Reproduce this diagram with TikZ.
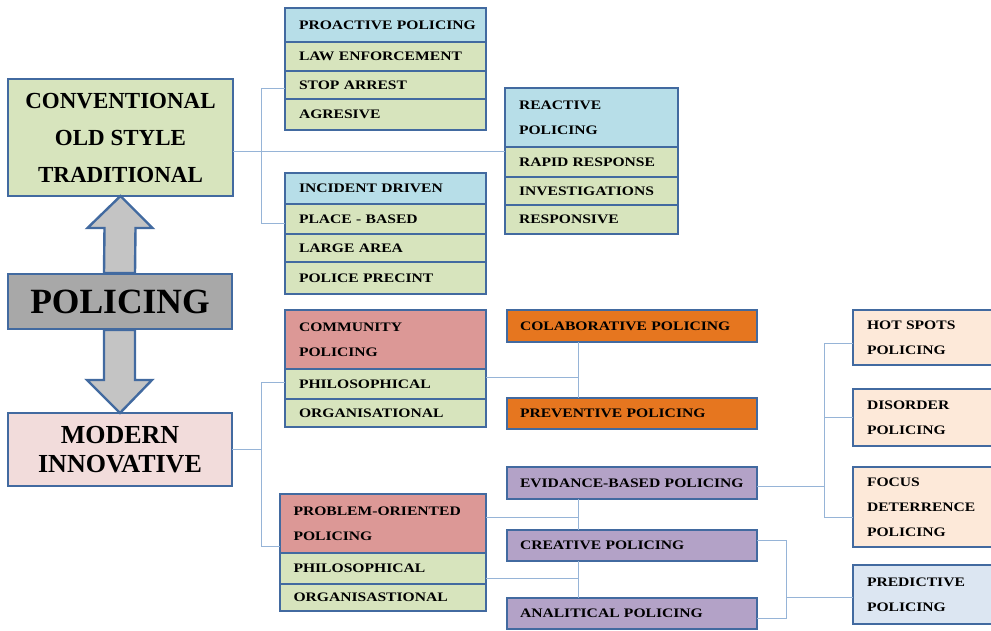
\documentclass[tikz,border=0pt]{standalone}
\usepackage{fontspec}
\newfontfamily\cellfont{Liberation Serif}[FakeStretch=1.2]
\newfontfamily\headfont{Liberation Serif}
\usetikzlibrary{calc}

\definecolor{edge}{RGB}{66,106,160}
\definecolor{wire}{RGB}{150,180,215}
\definecolor{sage}{RGB}{215,228,189}
\definecolor{sky}{RGB}{183,222,232}
\definecolor{salmon}{RGB}{220,152,150}
\definecolor{tangerine}{RGB}{230,118,31}
\definecolor{lilac}{RGB}{179,162,199}
\definecolor{peach}{RGB}{253,233,217}
\definecolor{mist}{RGB}{220,230,242}
\definecolor{blush}{RGB}{242,220,219}
\definecolor{slate}{RGB}{168,168,168}
\definecolor{pale}{RGB}{196,196,196}

\begin{document}
\begin{tikzpicture}[x=1pt,y=-1pt,
  cell/.style={draw=edge, line width=2.4pt, anchor=north west, outer sep=0pt,
    inner xsep=14pt, inner ysep=0pt, align=left, text=black,
    font=\cellfont\bfseries\fontsize{13}{25}\selectfont},
  headbox/.style={draw=edge, line width=2.4pt, anchor=north west, outer sep=0pt,
    inner sep=0pt, align=center, text=black},
  wireline/.style={draw=wire, line width=0.9pt},
  blockarrow/.style={draw=edge, line width=2.4pt, fill=pale, line join=miter}
]
\useasboundingbox (0,0) rectangle (991,630);
\clip (0,0) rectangle (991,630);

% ---------- left column ----------
\node[headbox, fill=sage, minimum width=225, minimum height=117,
      font=\headfont\bfseries\fontsize{23}{37}\selectfont]
  (conv) at (8,79) {CONVENTIONAL\\OLD STYLE\\TRADITIONAL};
\node[headbox, fill=slate, minimum width=224, minimum height=55,
      font=\headfont\bfseries\fontsize{35.5}{40}\selectfont]
  (pol) at (8,274) {POLICING};
\node[headbox, fill=blush, minimum width=224, minimum height=73,
      font=\headfont\bfseries\fontsize{26}{29}\selectfont]
  (modern) at (8,413) {MODERN\\INNOVATIVE};

% block arrows between the left boxes
\draw[blockarrow]
  ($(pol.north)+(-16,-1)$) -- ($(conv.south)+(-16,32)$) -- ($(conv.south)+(-33,32)$)
  -- (conv.south) -- ($(conv.south)+(32,32)$) -- ($(conv.south)+(15,32)$)
  -- ($(pol.north)+(15,-1)$) -- cycle;
\draw[blockarrow]
  ($(pol.south)+(-16,1)$) -- ($(modern.north)+(-16,-33)$) -- ($(modern.north)+(-33,-33)$)
  -- (modern.north) -- ($(modern.north)+(32,-33)$) -- ($(modern.north)+(15,-33)$)
  -- ($(pol.south)+(15,1)$) -- cycle;
% redraw the box edges over the arrow ends
\draw[draw=edge, line width=2.4pt] (conv.south west) -- (conv.south east);
\draw[draw=edge, line width=2.4pt] (pol.north west) -- (pol.north east);
\draw[draw=edge, line width=2.4pt] (pol.south west) -- (pol.south east);
\draw[draw=edge, line width=2.4pt] (modern.north west) -- (modern.north east);

% ---------- proactive group ----------
\node[cell, fill=sky,  minimum width=201, text width=173pt, minimum height=34] (pro)   at (285,8)  {\mbox{PROACTIVE POLICING}};
\node[cell, fill=sage, minimum width=201, text width=173pt, minimum height=29] (law)   at (285,42) {LAW ENFORCEMENT};
\node[cell, fill=sage, minimum width=201, text width=173pt, minimum height=28] (stop)  at (285,71) {STOP ARREST};
\node[cell, fill=sage, minimum width=201, text width=173pt, minimum height=31] (agr)   at (285,99) {AGRESIVE};

% ---------- incident group ----------
\node[cell, fill=sky,  minimum width=201, text width=173pt, minimum height=31] (inc)   at (285,173) {INCIDENT DRIVEN};
\node[cell, fill=sage, minimum width=201, text width=173pt, minimum height=30] (place) at (285,204) {PLACE - BASED};
\node[cell, fill=sage, minimum width=201, text width=173pt, minimum height=28] (large) at (285,234) {LARGE AREA};
\node[cell, fill=sage, minimum width=201, text width=173pt, minimum height=32] (prec)  at (285,262) {POLICE PRECINT};

% ---------- reactive group ----------
\node[cell, fill=sky,  minimum width=173, text width=145pt, minimum height=59] (react) at (505,88)  {REACTIVE\\POLICING};
\node[cell, fill=sage, minimum width=173, text width=145pt, minimum height=30] (rapid) at (505,147) {RAPID RESPONSE};
\node[cell, fill=sage, minimum width=173, text width=145pt, minimum height=28] (inv)   at (505,177) {INVESTIGATIONS};
\node[cell, fill=sage, minimum width=173, text width=145pt, minimum height=29] (resp)  at (505,205) {RESPONSIVE};

% ---------- community group ----------
\node[cell, fill=salmon, minimum width=201, text width=173pt, minimum height=59] (comm)  at (285,310) {COMMUNITY\\POLICING};
\node[cell, fill=sage,   minimum width=201, text width=173pt, minimum height=30] (phA)   at (285,369) {PHILOSOPHICAL};
\node[cell, fill=sage,   minimum width=201, text width=173pt, minimum height=28] (orgA)  at (285,399) {ORGANISATIONAL};

% ---------- problem-oriented group ----------
\node[cell, fill=salmon, minimum width=206, text width=179pt, inner xsep=13.5pt, minimum height=59] (prob) at (280,494) {PROBLEM-ORIENTED\\POLICING};
\node[cell, fill=sage,   minimum width=206, text width=179pt, inner xsep=13.5pt, minimum height=31] (phB)  at (280,553) {PHILOSOPHICAL};
\node[cell, fill=sage,   minimum width=206, text width=179pt, inner xsep=13.5pt, minimum height=27] (orgB) at (280,584) {ORGANISASTIONAL};

% ---------- middle column ----------
\node[cell, fill=tangerine, minimum width=250, text width=224pt, inner xsep=13pt, minimum height=32] (colab) at (507,310) {COLABORATIVE POLICING};
\node[cell, fill=tangerine, minimum width=250, text width=224pt, inner xsep=13pt, minimum height=31] (prev)  at (507,398) {PREVENTIVE POLICING};
\node[cell, fill=lilac,     minimum width=250, text width=224pt, inner xsep=13pt, minimum height=32] (evid)  at (507,467) {EVIDANCE-BASED POLICING};
\node[cell, fill=lilac,     minimum width=250, text width=224pt, inner xsep=13pt, minimum height=31] (crea)  at (507,530) {CREATIVE POLICING};
\node[cell, fill=lilac,     minimum width=250, text width=224pt, inner xsep=13pt, minimum height=31] (anal)  at (507,598) {ANALITICAL POLICING};

% ---------- right column ----------
\node[cell, fill=peach, minimum width=150, text width=122pt, minimum height=55] (hot)  at (853,310) {HOT SPOTS\\POLICING};
\node[cell, fill=peach, minimum width=150, text width=122pt, minimum height=57] (dis)  at (853,389) {DISORDER\\POLICING};
\node[cell, fill=peach, minimum width=150, text width=122pt, minimum height=80] (foc)  at (853,467) {FOCUS\\DETERRENCE\\POLICING};
\node[cell, fill=mist,  minimum width=150, text width=122pt, minimum height=59] (pred) at (853,565) {PREDICTIVE\\POLICING};

% ---------- junction points ----------
\coordinate (jc) at (261,151);
\coordinate (ja) at (261,88);
\coordinate (jb) at (261,223);
\coordinate (jm) at (261,449);
\coordinate (jp) at (261,382);
\coordinate (jq) at (261,546);
\coordinate (kc) at (578,377);
\coordinate (kp) at (578,517);
\coordinate (kq) at (578,578);
\coordinate (re) at (824,486);
\coordinate (rh) at (824,343);
\coordinate (rd) at (824,417);
\coordinate (rf) at (824,517);
\coordinate (ca) at (786,540);
\coordinate (cb) at (786,618);
\coordinate (cp) at (786,597);

% ---------- connectors ----------
\path[wireline] (conv.east |- jc) -- (react.west |- jc);
\path[wireline] (stop.west |- ja) -- (ja) -- (jb) -- (place.west |- jb);

\path[wireline] (modern.east |- jm) -- (jm);
\path[wireline] (phA.west |- jp) -- (jp) -- (jq) -- (prob.west |- jq);

\path[wireline] (phA.east |- kc) -- (kc);
\path[wireline] (colab.south -| kc) -- (prev.north -| kc);

\path[wireline] (prob.east |- kp) -- (kp);
\path[wireline] (phB.east |- kq) -- (kq);
\path[wireline] (evid.south -| kp) -- (crea.north -| kp);
\path[wireline] (crea.south -| kq) -- (anal.north -| kq);

\path[wireline] (evid.east |- re) -- (re);
\path[wireline] (hot.west |- rh) -- (rh) -- (rf) -- (foc.west |- rf);
\path[wireline] (dis.west |- rd) -- (rd);

\path[wireline] (crea.east |- ca) -- (ca) -- (cb) -- (anal.east |- cb);
\path[wireline] (cp) -- (pred.west |- cp);
\end{tikzpicture}
\end{document}
